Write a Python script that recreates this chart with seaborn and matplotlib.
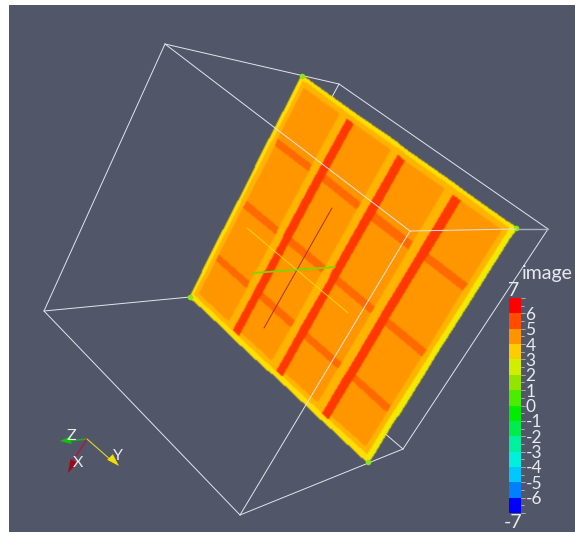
import numpy as np
import matplotlib
matplotlib.use('Agg')
import matplotlib.pyplot as plt
import matplotlib.transforms as mtransforms
from matplotlib.colors import ListedColormap
from matplotlib.patches import Polygon, Rectangle
import seaborn as sns

BG = '#515669'
TXT = '#e9eaee'
LINE = '#e4e5ea'

# scalar bar, top to bottom
bar_colors = ['#ff0000', '#ff4c00', '#ff9400', '#ffcc00', '#d2ee00', '#94e400', '#4cec00',
              '#00ec00', '#00ec4c', '#00f0a0', '#00f0dc', '#00c8ff', '#0080ff', '#0000ff']
bar_values = [6.5, 5.5, 4.5, 3.5, 2.5, 1.5, 0.5, -0.5, -1.5, -2.5, -3.5, -4.5, -5.5, -6.5]
bar_labels = ['7', '6', '5', '4', '3', '2', '1', '0', '-1', '-2', '-3', '-4', '-5', '-6', '-7']

# plate bands: width in 1/200 of the plate and the level of each band
col_widths = [3, 4, 37, 7, 7, 36, 7, 7, 36, 7, 7, 35, 4, 3]
col_levels = [2.6, 3.5, 4.5, 3.5, 6.5, 4.5, 3.5, 6.5, 4.5, 3.5, 6.5, 4.5, 3.5, 2.4]
row_widths = [3, 4, 43, 6, 49, 6, 44, 6, 32, 4, 3]
row_levels = [2.6, 3.5, 4.5, 5.5, 4.5, 5.5, 4.5, 5.5, 4.5, 3.5, 2.6]
plate_levels = [2.4, 2.6, 3.5, 4.5, 5.5, 6.5]
plate_colors = ['#f2ea00', '#ffe000', '#ffb400', '#ff9600', '#ff6a00', '#ff3800']

# plate corners on the picture: top, right, bottom, left
plate_corners = [(302, 76), (516, 228), (368, 462), (190, 297)]

# outline box, drawn under and over the plate
box_under = [((165, 44), (339, 84)), ((339, 84), (548, 229)), ((339, 84), (325, 110)),
             ((548, 229), (403, 449)), ((403, 449), (240, 515)),
             ((403, 449), (375, 425)), ((240, 515), (44, 311)), ((44, 311), (165, 44)),
             ((44, 311), (190, 297))]
box_over = [((165, 44), (410, 231)), ((410, 231), (516, 229)), ((410, 231), (240, 515))]

# lines in the middle of the plate
mid_lines = [('#a83030', 0.7, (332, 208), (264, 328)),
             ('#ffd800', 0.7, (247, 228), (348, 313)),
             ('#7fd400', 1.3, (253, 273), (335, 267))]


class PlateTransform(mtransforms.Transform):
    # heatmap cell index -> band edge on the plate -> picture position
    input_dims = 2
    output_dims = 2
    is_separable = False

    def __init__(self, corners, col_edges, row_edges):
        super().__init__()
        self.col_edges = np.asarray(col_edges, float) / col_edges[-1]
        self.row_edges = np.asarray(row_edges, float) / row_edges[-1]
        (x0, y0), (x1, y1), (x2, y2), (x3, y3) = corners
        sx, sy = x0 - x1 + x2 - x3, y0 - y1 + y2 - y3
        dx1, dy1, dx2, dy2 = x1 - x2, y1 - y2, x3 - x2, y3 - y2
        den = dx1 * dy2 - dx2 * dy1
        g = (sx * dy2 - dx2 * sy) / den
        h = (dx1 * sy - sx * dy1) / den
        self.m = np.array([[x1 - x0 + g * x1, x3 - x0 + h * x3, x0],
                           [y1 - y0 + g * y1, y3 - y0 + h * y3, y0],
                           [g, h, 1.0]])

    def transform_non_affine(self, values):
        values = np.asarray(values, dtype=float)
        u = np.interp(values[:, 0], np.arange(self.col_edges.size), self.col_edges)
        v = np.interp(values[:, 1], np.arange(self.row_edges.size), self.row_edges)
        out = np.column_stack([u, v, np.ones(len(values))]) @ self.m.T
        return out[:, :2] / out[:, 2:3]


def soften(img, dpi):
    # the reference is a blurry screenshot, so the plate gets a small blur
    pad = 3
    img = np.pad(img, ((pad, pad), (pad, pad), (0, 0)))
    a = img[..., 3:4]
    pm = np.concatenate([img[..., :3] * a, a], axis=2)
    kernel = [0.2, 0.6, 0.2]
    for axis in (0, 1):
        pm = np.apply_along_axis(lambda v: np.convolve(v, kernel, mode='same'), axis, pm)
    a = pm[..., 3:4]
    rgb = np.where(a > 0, pm[..., :3] / np.maximum(a, 1e-6), 0)
    return np.clip(np.concatenate([rgb, a], axis=2), 0, 1), -pad, -pad


def seg(ax, a, b, color=LINE, lw=0.7, z=2):
    ax.plot([a[0], b[0]], [a[1], b[1]], color=color, lw=lw, zorder=z, solid_capstyle='round')


def cone(ax, tip, base, width, color):
    tip, base = np.array(tip, float), np.array(base, float)
    d = (tip - base) / np.linalg.norm(tip - base)
    n = np.array([-d[1], d[0]]) * width / 2
    ax.add_patch(Polygon([tip, base + n, base - n], color=color, zorder=6, lw=0))


fig = plt.figure(figsize=(5.75, 5.34), dpi=100, facecolor='white')
sns.set_style('white')
plt.rcParams['font.family'] = ['Lato', 'DejaVu Sans']

ax = fig.add_axes([0, 0, 1, 1])

# plate, rim rows and columns win over the inner bands
col_band = np.array(col_levels)[None, :]
row_band = np.array(row_levels)[:, None]
field = np.where(col_band != 4.5, col_band, row_band)
field = np.where(row_band < 4, row_band, field)
field = np.where(col_band < 3, col_band, field)
# red strips run through the inner rim on the lower side
field[-2] = np.where(col_band[0] == 6.5, 6.5, field[-2])
cidx = np.searchsorted(plate_levels, field)
sns.heatmap(cidx, ax=ax, cbar=False, cmap=ListedColormap(plate_colors), vmin=-0.5, vmax=5.5,
            xticklabels=False, yticklabels=False)
mesh = ax.collections[0]
mesh.set_transform(PlateTransform(plate_corners, np.r_[0, np.cumsum(col_widths)],
                                  np.r_[0, np.cumsum(row_widths)]) + ax.transData)
mesh.set_zorder(3)
mesh.set_antialiased(True)
mesh.set_edgecolor('face')
mesh.set_linewidth(0.3)
mesh.set_agg_filter(soften)

ax.set_xlim(0, 575)
ax.set_ylim(534, 0)
ax.set_axis_off()
ax.add_patch(Rectangle((9, 5), 566, 527, color=BG, zorder=0, lw=0))

# corners of the plate are green
for x, y in plate_corners:
    ax.plot(x, y, 'o', ms=4, color='#8fe020', mew=0, zorder=4)

for a, b in box_under:
    seg(ax, a, b)
seg(ax, (516, 229), (548, 229), '#a9abb6', 1.0)
for a, b in box_over:
    seg(ax, a, b, z=5)
for color, lw, a, b in mid_lines:
    seg(ax, a, b, color=color, lw=lw, z=4)

# orientation axes
origin = (87, 439)
seg(ax, origin, (68, 441), '#1fae1f', 1.1, 5)
seg(ax, origin, (72, 462), '#a02040', 1.1, 5)
seg(ax, origin, (112, 461), '#d8d830', 0.8, 5)
cone(ax, (60, 441), (71, 440), 8, '#10c010')
cone(ax, (68, 473), (74, 461), 8, '#a00818')
cone(ax, (119, 466), (110, 457), 8, '#f0e000')
for s, x, y in [('Z', 71, 436), ('X', 78, 463), ('Y', 118, 456)]:
    ax.text(x, y, s, color=TXT, fontsize=11.5, ha='center', va='center', zorder=7)

# scalar bar
bar_top, bar_bot = 298, 513
bar_ax = fig.add_axes([509.5 / 575, 1 - bar_bot / 534, 11 / 575, (bar_bot - bar_top) / 534])
sns.heatmap(np.array(bar_values)[:, None], ax=bar_ax, cbar=False, cmap=ListedColormap(bar_colors[::-1]),
            vmin=-7, vmax=7, xticklabels=False, yticklabels=False)
bar_ax.set_axis_off()

step = (bar_bot - bar_top) / len(bar_values)
for i in range(len(bar_values) * 2 + 1):
    y = bar_top + i * step / 2
    ax.plot([520.5, 525 if i % 2 == 0 else 523.5], [y, y], color='#b4b6c0', lw=0.6, zorder=6)
for i, lab in enumerate(bar_labels):
    y = bar_top + i * step
    if i == 0:
        ax.text(513.5, 290, lab, color=TXT, fontsize=14, ha='center', va='center', zorder=7)
    elif i == len(bar_labels) - 1:
        ax.text(513, 522.5, lab, color=TXT, fontsize=14, ha='center', va='center', zorder=7)
    else:
        ax.text(525.5, y + 1.5, lab, color=TXT, fontsize=12.5, ha='left', va='center', zorder=7)
ax.text(522, 274, 'image', color=TXT, fontsize=14, ha='left', va='center', zorder=7)

fig.savefig('out.png', dpi=100, facecolor='white')
